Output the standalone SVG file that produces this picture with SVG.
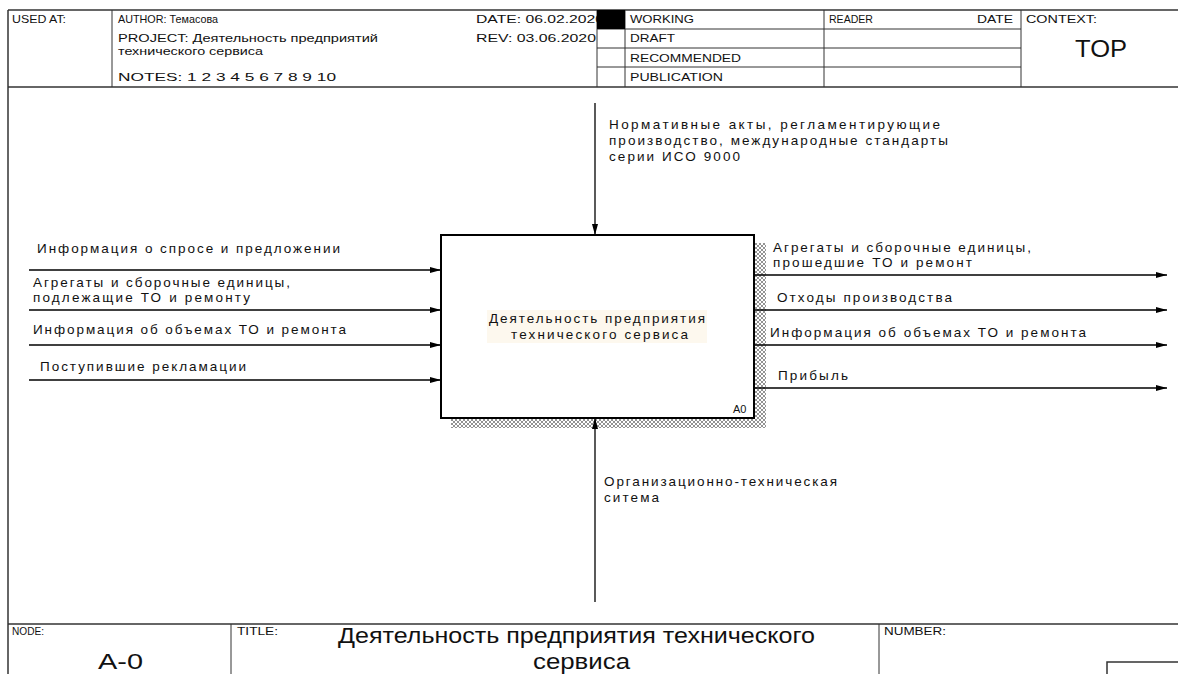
<svg xmlns="http://www.w3.org/2000/svg" width="1178" height="674" viewBox="0 0 1178 674">
<style>
.t{font-family:"Liberation Sans",Arial,sans-serif;fill:#111}
.lb{font-size:13.5px}
.hd{font-size:11px}
.ln{stroke:#000;stroke-width:1.3;fill:none}
.fr{stroke:#333;stroke-width:1.5;fill:none}
.cl{stroke:#333;stroke-width:1;fill:none}
</style>
<defs>
<marker id="ah" viewBox="0 0 11 8" refX="11" refY="4" markerWidth="11" markerHeight="8" markerUnits="userSpaceOnUse" orient="auto">
<path d="M0,1 L11,4 L0,7 Z" fill="#000"/>
</marker>
<pattern id="hatch" width="4" height="4" patternUnits="userSpaceOnUse">
<rect width="4" height="4" fill="#fff"/>
<path d="M0,4 L4,0 M0,0 L4,4" stroke="#777" stroke-width="0.8"/>
</pattern>
</defs>
<rect width="1178" height="674" fill="#fff"/>

<g id="frame">
<line class="fr" x1="8" y1="10" x2="1178" y2="10"/>
<line class="fr" x1="8" y1="87" x2="1178" y2="87"/>
<line class="fr" x1="8" y1="10" x2="8" y2="674"/>
<line class="cl" x1="112" y1="10" x2="112" y2="87"/>
<line class="cl" x1="597" y1="10" x2="597" y2="87"/>
<line class="cl" x1="625" y1="10" x2="625" y2="87"/>
<line class="cl" x1="824" y1="10" x2="824" y2="87"/>
<line class="cl" x1="1021" y1="10" x2="1021" y2="87"/>
<line class="cl" x1="597" y1="29" x2="1021" y2="29"/>
<line class="cl" x1="597" y1="48" x2="1021" y2="48"/>
<line class="cl" x1="597" y1="67" x2="1021" y2="67"/>
<text class="t hd" x="12" y="23" textLength="54" lengthAdjust="spacingAndGlyphs">USED AT:</text>
<text class="t hd" x="118" y="23" textLength="100" lengthAdjust="spacingAndGlyphs">AUTHOR: Темасова</text>
<text class="t hd" x="118" y="42" textLength="260" lengthAdjust="spacingAndGlyphs">PROJECT: Деятельность предприятий</text>
<text class="t hd" x="118" y="55" textLength="145" lengthAdjust="spacingAndGlyphs">технического сервиса</text>
<text class="t hd" x="118" y="81" textLength="218" lengthAdjust="spacingAndGlyphs">NOTES:  1  2  3  4  5  6  7  8  9  10</text>
<text class="t hd" x="476" y="23" textLength="128" lengthAdjust="spacingAndGlyphs">DATE:  06.02.2020</text>
<text class="t hd" x="476" y="42" textLength="120" lengthAdjust="spacingAndGlyphs">REV:    03.06.2020</text>
<rect x="597" y="10" width="28" height="19" fill="#000"/>
<text class="t hd" x="630" y="23" textLength="64" lengthAdjust="spacingAndGlyphs">WORKING</text>
<text class="t hd" x="630" y="42" textLength="45" lengthAdjust="spacingAndGlyphs">DRAFT</text>
<text class="t hd" x="630" y="62" textLength="111" lengthAdjust="spacingAndGlyphs">RECOMMENDED</text>
<text class="t hd" x="630" y="81" textLength="93" lengthAdjust="spacingAndGlyphs">PUBLICATION</text>
<text class="t hd" x="829" y="23" textLength="44" lengthAdjust="spacingAndGlyphs">READER</text>
<text class="t hd" x="977" y="23" textLength="36" lengthAdjust="spacingAndGlyphs">DATE</text>
<text class="t hd" x="1026" y="23" textLength="71" lengthAdjust="spacingAndGlyphs">CONTEXT:</text>
<text class="t" x="1075" y="57" font-size="24" textLength="52" lengthAdjust="spacingAndGlyphs">TOP</text>

<line class="fr" x1="8" y1="624" x2="1178" y2="624"/>
<line class="cl" x1="231" y1="624" x2="231" y2="674"/>
<line class="cl" x1="879" y1="624" x2="879" y2="674"/>
<path class="fr" d="M1107,674 V662 H1178"/>
<text class="t" x="12" y="635" font-size="10" textLength="32" lengthAdjust="spacingAndGlyphs">NODE:</text>
<text class="t" x="237" y="635" font-size="10" textLength="41" lengthAdjust="spacingAndGlyphs">TITLE:</text>
<text class="t" x="884" y="635" font-size="10" textLength="62" lengthAdjust="spacingAndGlyphs">NUMBER:</text>
<text class="t" x="98" y="669" font-size="22" textLength="45" lengthAdjust="spacingAndGlyphs">A-0</text>
<text class="t" x="338" y="643" font-size="22" textLength="477" lengthAdjust="spacingAndGlyphs">Деятельность предприятия технического</text>
<text class="t" x="533" y="669" font-size="22" textLength="97" lengthAdjust="spacingAndGlyphs">сервиса</text>
</g>

<g id="A0">
<rect x="754" y="243" width="12" height="185" fill="url(#hatch)"/>
<rect x="451" y="418" width="315" height="10" fill="url(#hatch)"/>
<rect x="441" y="235" width="313" height="183" fill="#fff" stroke="#000" stroke-width="2"/>
<rect x="487" y="310" width="220" height="33" fill="#fdf8ee"/>
<text class="t lb" x="489" y="323" textLength="216" lengthAdjust="spacing">Деятельность предприятия</text>
<text class="t lb" x="511" y="339" textLength="177" lengthAdjust="spacing">технического сервиса</text>
<text class="t" x="733" y="413" font-size="11">A0</text>
</g>

<g id="connectors">
<line class="ln" x1="29" y1="270" x2="441" y2="270" marker-end="url(#ah)"/>
<line class="ln" x1="29" y1="310" x2="441" y2="310" marker-end="url(#ah)"/>
<line class="ln" x1="29" y1="345" x2="441" y2="345" marker-end="url(#ah)"/>
<line class="ln" x1="29" y1="380" x2="441" y2="380" marker-end="url(#ah)"/>
<line class="ln" x1="754" y1="275" x2="1167" y2="275" marker-end="url(#ah)"/>
<line class="ln" x1="754" y1="310" x2="1167" y2="310" marker-end="url(#ah)"/>
<line class="ln" x1="754" y1="345" x2="1167" y2="345" marker-end="url(#ah)"/>
<line class="ln" x1="754" y1="388" x2="1167" y2="388" marker-end="url(#ah)"/>
<line class="ln" x1="595" y1="103" x2="595" y2="235" marker-end="url(#ah)"/>
<line class="ln" x1="595" y1="602" x2="595" y2="418" marker-end="url(#ah)"/>
</g>

<g id="labels">
<text class="t lb" x="37" y="253" textLength="303" lengthAdjust="spacing">Информация о спросе и предложении</text>
<text class="t lb" x="33" y="287" textLength="257" lengthAdjust="spacing">Агрегаты и сборочные единицы,</text>
<text class="t lb" x="33" y="302" textLength="217" lengthAdjust="spacing">подлежащие ТО и ремонту</text>
<text class="t lb" x="33" y="334" textLength="313" lengthAdjust="spacing">Информация об объемах ТО и ремонта</text>
<text class="t lb" x="40" y="371" textLength="206" lengthAdjust="spacing">Поступившие рекламации</text>
<text class="t lb" x="773" y="252" textLength="258" lengthAdjust="spacing">Агрегаты и сборочные единицы,</text>
<text class="t lb" x="773" y="267" textLength="199" lengthAdjust="spacing">прошедшие ТО и ремонт</text>
<text class="t lb" x="777" y="302" textLength="175" lengthAdjust="spacing">Отходы производства</text>
<text class="t lb" x="770" y="337" textLength="316" lengthAdjust="spacing">Информация об объемах ТО и ремонта</text>
<text class="t lb" x="778" y="380" textLength="70" lengthAdjust="spacing">Прибыль</text>
<text class="t lb" x="609" y="129" textLength="331" lengthAdjust="spacing">Нормативные акты, регламентирующие</text>
<text class="t lb" x="609" y="145" textLength="339" lengthAdjust="spacing">производство, международные стандарты</text>
<text class="t lb" x="609" y="161" textLength="131" lengthAdjust="spacing">серии ИСО 9000</text>
<text class="t lb" x="604" y="486" textLength="233" lengthAdjust="spacing">Организационно-техническая</text>
<text class="t lb" x="604" y="502" textLength="55" lengthAdjust="spacing">ситема</text>
</g>
</svg>
